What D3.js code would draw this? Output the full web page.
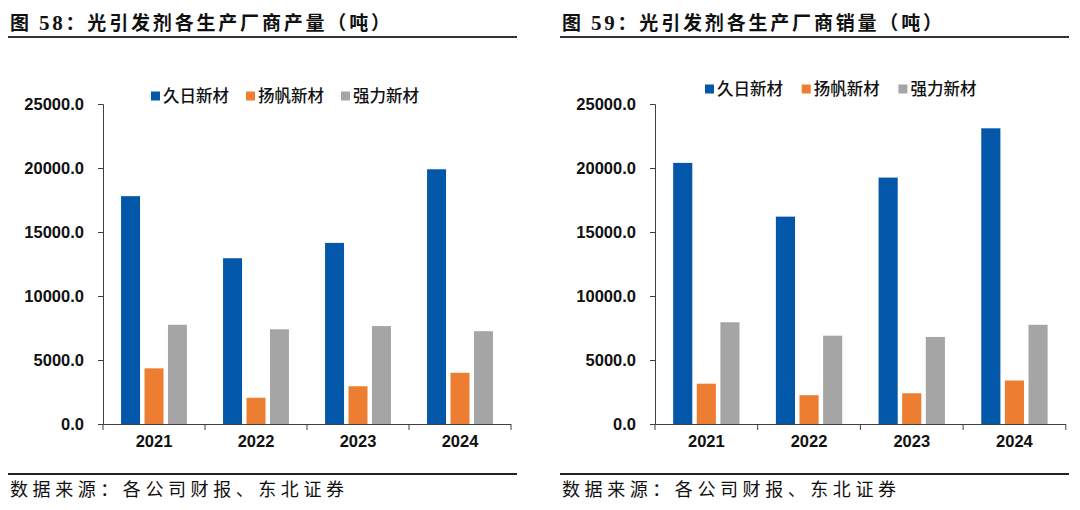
<!DOCTYPE html>
<html>
<head>
<meta charset="utf-8">
<script src="https://cdn.jsdelivr.net/npm/d3@7"></script>
<style>
  body { margin: 0; background: #fff; }
  svg { display: block; }
</style>
</head>
<body>
<svg id="grafico"></svg>
<script>
// dados
const anos = ["2021", "2022", "2023", "2024"];
const empresas = ["久日新材", "扬帆新材", "强力新材"];
const cores = ["#0257A8", "#ED7D31", "#A5A5A5"];
const producao = [
  [17800, 12950, 14150, 19900],  // 久日新材
  [4350, 2050, 2950, 4000],      // 扬帆新材
  [7750, 7400, 7650, 7250]       // 强力新材
];
const vendas = [
  [20400, 16200, 19250, 23100],
  [3150, 2250, 2400, 3400],
  [7950, 6900, 6800, 7750]
];
const ticksY = [0, 5000, 10000, 15000, 20000, 25000];

const width = 1080, height = 510;
const svg = d3.select("#grafico")
  .attr("width", width)
  .attr("height", height)
  .attr("viewBox", "0 0 " + width + " " + height);

const fonteCJK = "'Noto Sans CJK SC', sans-serif";
const fonteNum = "'Liberation Sans', Arial, sans-serif";

function desenhaPainel(cfg) {
  const g = svg.append("g");

  // titulo com linha embaixo (número em serifa, como no original)
  const tit = g.append("text")
    .attr("x", cfg.x0 + 2).attr("y", 30)
    .attr("font-family", fonteCJK)
    .attr("font-weight", "bold")
    .attr("font-size", 19)
    .attr("fill", "#111")
    .attr("textLength", 380)
    .attr("lengthAdjust", "spacing");
  tit.append("tspan").text("图 ");
  tit.append("tspan")
    .attr("font-family", "'Liberation Serif', 'Times New Roman', serif")
    .attr("font-size", 21)
    .text(cfg.numero);
  tit.append("tspan").text("：" + cfg.titulo);
  g.append("line")
    .attr("x1", cfg.x0).attr("x2", cfg.x1)
    .attr("y1", 37).attr("y2", 37)
    .attr("stroke", "#333").attr("stroke-width", 1.8);

  // fonte dos dados
  g.append("line")
    .attr("x1", cfg.x0).attr("x2", cfg.x1)
    .attr("y1", 474).attr("y2", 474)
    .attr("stroke", "#222").attr("stroke-width", 2);
  g.append("text")
    .attr("x", cfg.x0 + 2).attr("y", 496)
    .attr("font-family", fonteCJK)
    .attr("font-size", 18)
    .attr("fill", "#111")
    .attr("textLength", 334)
    .attr("lengthAdjust", "spacing")
    .text("数据来源：各公司财报、东北证券");

  const y = d3.scaleLinear().domain([0, 25000]).range([424, 104]);
  const x = d3.scaleBand().domain(anos).range([cfg.eixoX, cfg.eixoX + 4 * cfg.banda]).padding(0);
  const xi = d3.scaleBand().domain(d3.range(empresas.length))
    .range([0, x.bandwidth()])
    .paddingInner(0.19).paddingOuter(0.77);

  // barras
  cfg.dados.forEach(function(serie, s) {
    g.append("g").selectAll("rect")
      .data(serie)
      .enter().append("rect")
      .attr("x", (d, i) => x(anos[i]) + xi(s))
      .attr("y", d => y(d))
      .attr("width", xi.bandwidth())
      .attr("height", d => y(0) - y(d))
      .attr("fill", cores[s]);
  });

  // eixo y
  const eixoY = g.append("g")
    .attr("transform", "translate(" + cfg.eixoX + ",0)")
    .call(d3.axisLeft(y).tickValues(ticksY).tickFormat(d3.format(".1f")).tickSize(5).tickPadding(14));
  eixoY.select(".domain").attr("stroke", "#404040");
  eixoY.selectAll(".tick line").attr("stroke", "#404040");
  eixoY.selectAll("text")
    .attr("font-family", fonteNum).attr("font-weight", "bold")
    .attr("font-size", 16.5).attr("fill", "#111");

  // eixo x com marcas nas divisões
  const fronteiras = d3.range(5).map(i => cfg.eixoX + i * cfg.banda);
  g.append("line")
    .attr("x1", cfg.eixoX).attr("x2", cfg.eixoX + 4 * cfg.banda)
    .attr("y1", y(0) + 0.5).attr("y2", y(0) + 0.5)
    .attr("stroke", "#404040");
  g.selectAll(".marcaX")
    .data(fronteiras)
    .enter().append("line")
    .attr("x1", d => d).attr("x2", d => d)
    .attr("y1", y(0)).attr("y2", y(0) + 6)
    .attr("stroke", "#404040");
  g.selectAll(".ano")
    .data(anos)
    .enter().append("text")
    .attr("x", d => x(d) + x.bandwidth() / 2)
    .attr("y", 447)
    .attr("text-anchor", "middle")
    .attr("font-family", fonteNum).attr("font-weight", "bold")
    .attr("font-size", 16.5).attr("fill", "#111")
    .text(d => d);

  // legenda
  const leg = g.append("g");
  empresas.forEach(function(nome, i) {
    const lx = cfg.legX + i * cfg.legPasso;
    leg.append("rect")
      .attr("x", lx).attr("y", cfg.legY - 4.5)
      .attr("width", 9).attr("height", 9)
      .attr("fill", cores[i]);
    leg.append("text")
      .attr("x", lx + 12).attr("y", cfg.legY)
      .attr("dy", "0.36em")
      .attr("font-family", fonteCJK)
      .attr("font-size", 16.5)
      .attr("font-weight", 500)
      .attr("fill", "#111")
      .text(nome);
  });
}

desenhaPainel({
  numero: "58",
  titulo: "光引发剂各生产厂商产量（吨）",
  x0: 8, x1: 517,
  eixoX: 103, banda: 102,
  dados: producao,
  legX: 151, legY: 96, legPasso: 95
});

desenhaPainel({
  numero: "59",
  titulo: "光引发剂各生产厂商销量（吨）",
  x0: 560, x1: 1069,
  eixoX: 655, banda: 102.7,
  dados: vendas,
  legX: 705, legY: 89, legPasso: 96.7
});
</script>
</body>
</html>
